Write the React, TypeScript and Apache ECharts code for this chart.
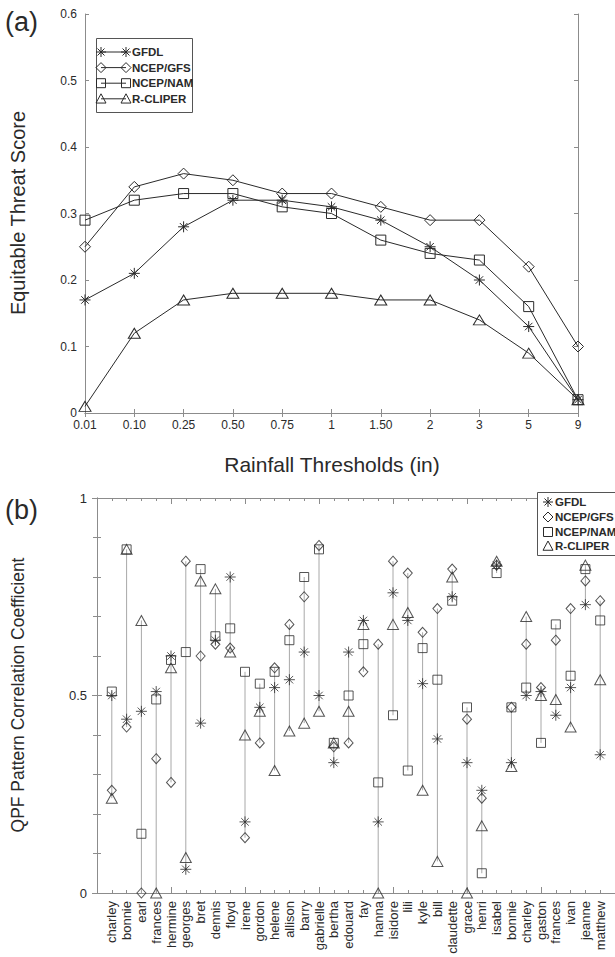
import React, { useEffect, useRef } from 'react';
import * as echarts from 'echarts';

// ---------- Panel (a): Equitable Threat Score vs rainfall threshold ----------
const thresholds = ['0.01', '0.10', '0.25', '0.50', '0.75', '1', '1.50', '2', '3', '5', '9'];
const gfdlEts = [0.17, 0.21, 0.28, 0.32, 0.32, 0.31, 0.29, 0.25, 0.2, 0.13, 0.02];
const gfsEts = [0.25, 0.34, 0.36, 0.35, 0.33, 0.33, 0.31, 0.29, 0.29, 0.22, 0.1];
const namEts = [0.29, 0.32, 0.33, 0.33, 0.31, 0.3, 0.26, 0.24, 0.23, 0.16, 0.02];
const rcliperEts = [0.01, 0.12, 0.17, 0.18, 0.18, 0.18, 0.17, 0.17, 0.14, 0.09, 0.02];
const etsTicks = [0, 0.1, 0.2, 0.3, 0.4, 0.5, 0.6];

// ---------- Panel (b): QPF pattern correlation coefficient per storm ----------
const storms = [
  'charley', 'bonnie', 'earl', 'frances', 'hermine', 'georges', 'bret', 'dennis', 'floyd', 'irene',
  'gordon', 'helene', 'allison', 'barry', 'gabrielle', 'bertha', 'edouard', 'fay', 'hanna', 'isidore',
  'lili', 'kyle', 'bill', 'claudette', 'grace', 'henri', 'isabel', 'bonnie', 'charley', 'gaston',
  'frances', 'ivan', 'jeanne', 'matthew',
];
const gfdlPcc = [
  0.5, 0.44, 0.46, 0.51, 0.6, 0.06, 0.43, 0.64, 0.8, 0.18,
  0.47, 0.52, 0.54, 0.61, 0.5, 0.33, 0.61, 0.69, 0.18, 0.76,
  0.69, 0.53, 0.39, 0.75, 0.33, 0.26, 0.83, 0.33, 0.5, 0.51,
  0.45, 0.52, 0.73, 0.35,
];
const gfsPcc = [
  0.26, 0.42, 0.0, 0.34, 0.28, 0.84, 0.6, 0.63, 0.62, 0.14,
  0.38, 0.57, 0.68, 0.75, 0.88, 0.37, 0.38, 0.56, 0.63, 0.84,
  0.81, 0.66, 0.72, 0.82, 0.44, 0.24, 0.83, 0.47, 0.63, 0.52,
  0.64, 0.72, 0.79, 0.74,
];
const namPcc = [
  0.51, 0.87, 0.15, 0.49, 0.59, 0.61, 0.82, 0.65, 0.67, 0.56,
  0.53, 0.56, 0.64, 0.8, 0.87, 0.38, 0.5, 0.63, 0.28, 0.45,
  0.31, 0.62, 0.54, 0.74, 0.47, 0.05, 0.81, 0.47, 0.52, 0.38,
  0.68, 0.55, 0.82, 0.69,
];
const rcliperPcc = [
  0.24, 0.87, 0.69, 0.0, 0.57, 0.09, 0.79, 0.77, 0.61, 0.4,
  0.46, 0.31, 0.41, 0.43, 0.46, 0.38, 0.46, 0.68, 0.0, 0.68,
  0.71, 0.26, 0.08, 0.8, 0.0, 0.17, 0.84, 0.32, 0.7, 0.5,
  0.49, 0.42, 0.83, 0.54,
];

const modelNames = ['GFDL', 'NCEP/GFS', 'NCEP/NAM', 'R-CLIPER'];

const FONT = '"Liberation Sans", Arial, Helvetica, sans-serif';
const INK = '#2a2a2a';
const FRAME = '#8c8c8c';
const STEM = '#a8a8a8';

const ASTERISK = 'path://M5,0L5,10M0,5L10,5M1.6,1.6L8.4,8.4M1.6,8.4L8.4,1.6';
const symbolKinds = ['asterisk', 'diamond', 'square', 'triangle'];
const echartsSymbols = [ASTERISK, 'diamond', 'rect', 'triangle'];
const symbolSizesA: any[] = [[11, 11], [11, 11], [10, 10], [12, 10]];
const symbolSizesB: any[] = [[11, 11], [9, 10], [9, 9], [11, 10]];

function marker(kind: string, cx: number, cy: number, s: number): any {
  const h = s / 2;
  const style = { fill: 'none', stroke: INK, lineWidth: 1 };
  if (kind === 'asterisk') {
    const d = h * 0.7;
    const seg = (x1: number, y1: number, x2: number, y2: number) => ({
      type: 'line', shape: { x1, y1, x2, y2 }, style: { stroke: INK, lineWidth: 1 }, z: 101,
    });
    return {
      type: 'group',
      children: [
        seg(cx, cy - h, cx, cy + h),
        seg(cx - h, cy, cx + h, cy),
        seg(cx - d, cy - d, cx + d, cy + d),
        seg(cx - d, cy + d, cx + d, cy - d),
      ],
    };
  }
  if (kind === 'diamond') {
    return { type: 'polygon', shape: { points: [[cx, cy - h], [cx + h, cy], [cx, cy + h], [cx - h, cy]] }, style, z: 101 };
  }
  if (kind === 'square') {
    return { type: 'rect', shape: { x: cx - h + 0.5, y: cy - h + 0.5, width: s - 1, height: s - 1 }, style, z: 101 };
  }
  return { type: 'polygon', shape: { points: [[cx, cy - h], [cx + h, cy + h * 0.85], [cx - h, cy + h * 0.85]] }, style, z: 101 };
}

function buildLegendA(): any[] {
  const els: any[] = [
    { type: 'rect', shape: { x: 96.5, y: 38.5, width: 96, height: 74 }, style: { fill: '#fff', stroke: '#555', lineWidth: 1 }, z: 100 },
  ];
  modelNames.forEach((name, i) => {
    const y = 52 + i * 15.6;
    els.push({ type: 'line', shape: { x1: 101, y1: y, x2: 126, y2: y }, style: { stroke: INK, lineWidth: 1 }, z: 101 });
    els.push(marker(symbolKinds[i], 101, y, 10));
    els.push(marker(symbolKinds[i], 126, y, 10));
    els.push({
      type: 'text', x: 132, y, z: 101,
      style: { text: name, fill: INK, font: `bold 11.5px ${FONT}`, verticalAlign: 'middle', align: 'left' },
    });
  });
  return els;
}

function buildLegendB(): any[] {
  const els: any[] = [
    { type: 'rect', shape: { x: 537.5, y: 492.5, width: 120, height: 63 }, style: { fill: '#fff', stroke: '#555', lineWidth: 1 }, z: 100 },
  ];
  const ys = [502, 517, 532, 546];
  modelNames.forEach((name, i) => {
    els.push(marker(symbolKinds[i], 548, ys[i], 10));
    els.push({
      type: 'text', x: 555, y: ys[i], z: 101,
      style: { text: name, fill: INK, font: `bold 11.5px ${FONT}`, verticalAlign: 'middle', align: 'left' },
    });
  });
  return els;
}

const axisBase = {
  axisLine: { show: true, lineStyle: { color: FRAME, width: 1 } },
  splitLine: { show: false },
};

export default function App() {
  const ref = useRef<HTMLDivElement>(null);

  useEffect(() => {
    if (!ref.current) return;
    const chart = echarts.init(ref.current, undefined, { renderer: 'svg' });

    const etsSeries = [gfdlEts, gfsEts, namEts, rcliperEts];
    const pccSeries = [gfdlPcc, gfsPcc, namPcc, rcliperPcc];

    const stems = storms.map((_, i) => {
      const vals = pccSeries.map((s) => s[i]);
      return [i + 1, Math.min(...vals), Math.max(...vals)];
    });

    const option: any = {
      animation: false,
      backgroundColor: '#fff',
      textStyle: { fontFamily: FONT },
      grid: [
        { left: 85, top: 14, width: 493, height: 399 },
        { left: 97, top: 498, width: 520, height: 395 },
      ],
      xAxis: [
        {
          ...axisBase, type: 'category', gridIndex: 0, data: thresholds, boundaryGap: false, position: 'bottom',
          axisTick: { show: true, inside: true, length: 4, alignWithLabel: true, lineStyle: { color: FRAME } },
          axisLabel: { color: INK, fontSize: 12, lineHeight: 12, margin: 6, interval: 0 },
        },
        {
          ...axisBase, type: 'category', gridIndex: 0, data: thresholds, boundaryGap: false, position: 'top',
          axisTick: { show: true, inside: true, length: 4, lineStyle: { color: FRAME } },
          axisLabel: { show: false },
        },
        {
          ...axisBase, type: 'value', gridIndex: 1, min: 0, max: storms.length + 1, interval: 5, position: 'bottom',
          axisTick: { show: true, inside: true, length: 6, lineStyle: { color: FRAME } },
          minorTick: { show: true, splitNumber: 5, length: 3, lineStyle: { color: FRAME } },
          axisLabel: { show: false },
        },
        {
          type: 'value', gridIndex: 1, min: 0, max: storms.length + 1, interval: 1, position: 'bottom',
          axisLine: { show: false }, axisTick: { show: false }, splitLine: { show: false },
          axisLabel: {
            rotate: 90, color: INK, fontSize: 13, margin: 8, showMinLabel: true, showMaxLabel: true,
            formatter: (v: number) => storms[Math.round(v) - 1] ?? '',
          },
        },
        {
          ...axisBase, type: 'value', gridIndex: 1, min: 0, max: storms.length + 1, interval: 5, position: 'top',
          axisTick: { show: true, inside: true, length: 6, lineStyle: { color: FRAME } },
          minorTick: { show: true, splitNumber: 5, length: 3, lineStyle: { color: FRAME } },
          axisLabel: { show: false },
        },
      ],
      yAxis: [
        {
          ...axisBase, type: 'value', gridIndex: 0, min: etsTicks[0], max: etsTicks[etsTicks.length - 1], interval: 0.1, position: 'left',
          axisTick: { show: true, inside: true, length: 4, lineStyle: { color: FRAME } },
          axisLabel: { color: INK, fontSize: 12, lineHeight: 11, margin: 8, formatter: (v: number) => (v === 0 ? '0' : v.toFixed(1)) },
        },
        {
          ...axisBase, type: 'value', gridIndex: 0, min: etsTicks[0], max: etsTicks[etsTicks.length - 1], interval: 0.1, position: 'right',
          axisTick: { show: true, inside: true, length: 4, lineStyle: { color: FRAME } },
          axisLabel: { show: false },
        },
        {
          ...axisBase, type: 'value', gridIndex: 1, min: 0, max: 1, interval: 0.5, position: 'left',
          axisTick: { show: true, inside: true, length: 5, lineStyle: { color: FRAME } },
          minorTick: { show: true, splitNumber: 5, length: 4, lineStyle: { color: FRAME } },
          axisLabel: { color: INK, fontSize: 13, margin: 10, formatter: (v: number) => (v === 0 ? '0' : v === 1 ? '1' : String(v)) },
        },
        {
          ...axisBase, type: 'value', gridIndex: 1, min: 0, max: 1, interval: 0.5, position: 'right',
          axisTick: { show: true, inside: true, length: 5, lineStyle: { color: FRAME } },
          minorTick: { show: true, splitNumber: 5, length: 4, lineStyle: { color: FRAME } },
          axisLabel: { show: false },
        },
      ],
      series: [
        ...etsSeries.map((data, i) => ({
          type: 'line',
          name: modelNames[i],
          xAxisIndex: 0,
          yAxisIndex: 0,
          data,
          symbol: echartsSymbols[i],
          symbolSize: symbolSizesA[i],
          showAllSymbol: true,
          lineStyle: { color: INK, width: 1 },
          itemStyle: { color: 'rgba(0,0,0,0)', borderColor: INK, borderWidth: 1 },
          emphasis: { disabled: true },
          z: 3,
        })),
        {
          type: 'custom',
          name: 'range',
          xAxisIndex: 2,
          yAxisIndex: 2,
          data: stems,
          encode: { x: 0, y: [1, 2] },
          renderItem: (params: any, api: any) => {
            const x = api.value(0);
            const p1 = api.coord([x, api.value(1)]);
            const p2 = api.coord([x, api.value(2)]);
            return {
              type: 'line',
              shape: { x1: p1[0], y1: p1[1], x2: p2[0], y2: p2[1] },
              style: { stroke: STEM, lineWidth: 1 },
            };
          },
          z: 1,
        },
        ...pccSeries.map((vals, i) => ({
          type: 'scatter',
          name: modelNames[i],
          xAxisIndex: 2,
          yAxisIndex: 2,
          data: vals.map((v, k) => [k + 1, v]),
          symbol: echartsSymbols[i],
          symbolSize: symbolSizesB[i],
          itemStyle: { color: 'rgba(0,0,0,0)', borderColor: INK, borderWidth: 1 },
          emphasis: { disabled: true },
          z: 3,
        })),
      ],
      graphic: [
        { type: 'text', x: 5, y: 22, style: { text: '(a)', fill: INK, font: `27px ${FONT}`, verticalAlign: 'middle', align: 'left' } },
        { type: 'text', x: 5, y: 510, style: { text: '(b)', fill: INK, font: `27px ${FONT}`, verticalAlign: 'middle', align: 'left' } },
        {
          type: 'text', x: 18, y: 213, rotation: Math.PI / 2,
          style: { text: 'Equitable Threat Score', fill: INK, font: `20px ${FONT}`, verticalAlign: 'middle', align: 'center' },
        },
        {
          type: 'text', x: 332, y: 464,
          style: { text: 'Rainfall Thresholds (in)', fill: INK, font: `21px ${FONT}`, verticalAlign: 'middle', align: 'center' },
        },
        {
          type: 'text', x: 18, y: 695, rotation: Math.PI / 2,
          style: { text: 'QPF Pattern Correlation Coefficient', fill: INK, font: `17.5px ${FONT}`, verticalAlign: 'middle', align: 'center' },
        },
        ...buildLegendA(),
        ...buildLegendB(),
      ],
    };

    chart.setOption(option);
    return () => chart.dispose();
  }, []);

  return (
    <div
      ref={ref}
      style={{ position: 'fixed', left: 0, top: 0, width: 615, height: 957, background: '#fff' }}
    />
  );
}
